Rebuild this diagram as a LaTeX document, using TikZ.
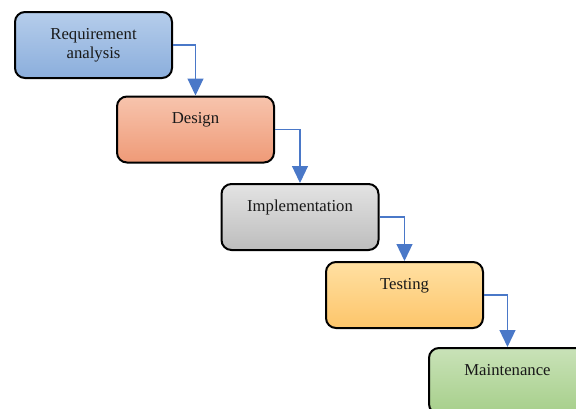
\documentclass[tikz,border=0pt]{standalone}
\usepackage{fontspec}
\setmainfont{Liberation Serif}
\usetikzlibrary{calc}
\usetikzlibrary{positioning}
\usetikzlibrary{arrows.meta}
\definecolor{flowblue}{HTML}{4A78C8}
\definecolor{reqtop}{HTML}{B5CDEB}
\definecolor{reqbot}{HTML}{8BAEDC}
\definecolor{destop}{HTML}{F7C4AD}
\definecolor{desbot}{HTML}{EF9A77}
\definecolor{imptop}{HTML}{E3E3E3}
\definecolor{impbot}{HTML}{BDBDBD}
\definecolor{testop}{HTML}{FFE0A2}
\definecolor{tesbot}{HTML}{FDC56A}
\definecolor{maitop}{HTML}{C9E2B8}
\definecolor{maibot}{HTML}{A6CF8A}

\begin{document}
\begin{tikzpicture}[x=1pt,y=-1pt,
    stage/.style={draw=black, line width=2pt, rounded corners=10pt,
      minimum width=157pt, minimum height=66pt, inner sep=0pt},
    stagetext/.style={anchor=base, align=center, text=black!90,
      font=\fontsize{16.7}{19.5}\selectfont},
    flow/.style={draw=flowblue, line width=1.2pt,
      -{Triangle[width=16pt,length=17pt]}}]
      \clip (0,0) rectangle (576,408);

      \node[stage, top color=reqtop, bottom color=reqbot] (req) at (93.5,45) {};
      \node[stage, top color=destop, bottom color=desbot] (des) at (195.5,129.5) {};
      \node[stage, top color=imptop, bottom color=impbot] (imp) at (300,217) {};
      \node[stage, top color=testop, bottom color=tesbot] (tes) at (404.5,295) {};
      \node[stage, top color=maitop, bottom color=maibot] (mai) at (507.5,381) {};

      % base of a two-line node is its last line
      \node[stagetext] (reqtxt) at ([yshift=-47.5pt]req.north) {Requirement\\analysis};
      \node[stagetext] (destxt) at ([yshift=-28pt]des.north) {Design};
      \node[stagetext] (imptxt) at ([yshift=-28pt]imp.north) {Implementation};
      \node[stagetext] (testxt) at ([yshift=-28pt]tes.north) {Testing};
      \node[stagetext] (maitxt) at ([yshift=-28pt]mai.north) {Maintenance};

      \draw[flow] (req.east) -| (des.north);
      \draw[flow] (des.east) -| (imp.north);
      \draw[flow] (imp.east) -| (tes.north);
      \draw[flow] (tes.east) -| (mai.north);
    \end{tikzpicture}
\end{document}
